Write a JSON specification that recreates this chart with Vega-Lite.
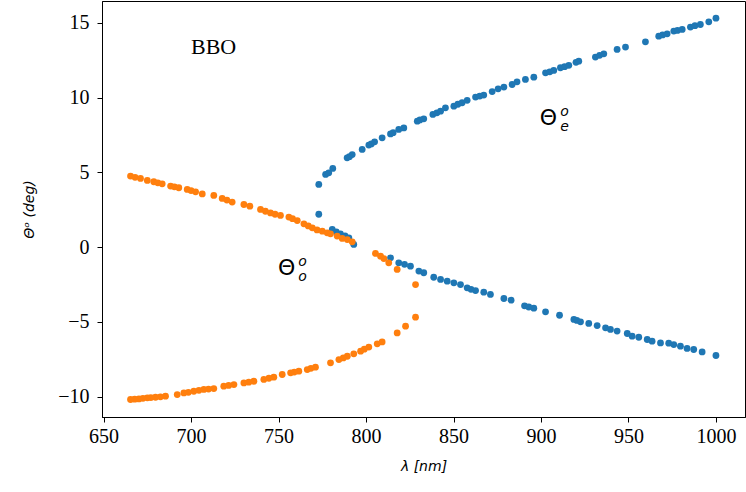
{
  "$schema": "https://vega.github.io/schema/vega-lite/v6.json",
  "autosize": {"type": "none"},
  "padding": {"left": 102, "top": 1, "right": 1, "bottom": 75},
  "width": 643,
  "height": 416,
  "background": "white",
  "config": {
    "view": {"stroke": "black", "strokeWidth": 1}
  },
  "datasets": {
    "pts": [
      {"lam": 773.0, "theta": 4.19, "s": "e"}, {"lam": 776.9, "theta": 4.86, "s": "e"}, {"lam": 778.7, "theta": 4.97, "s": "e"},
      {"lam": 781.0, "theta": 5.26, "s": "e"}, {"lam": 789.2, "theta": 5.97, "s": "e"}, {"lam": 790.5, "theta": 6.05, "s": "e"},
      {"lam": 792.1, "theta": 6.19, "s": "e"}, {"lam": 797.8, "theta": 6.53, "s": "e"}, {"lam": 801.6, "theta": 6.82, "s": "e"},
      {"lam": 803.0, "theta": 6.9, "s": "e"}, {"lam": 804.9, "theta": 7.04, "s": "e"}, {"lam": 809.2, "theta": 7.31, "s": "e"},
      {"lam": 814.0, "theta": 7.57, "s": "e"}, {"lam": 815.5, "theta": 7.65, "s": "e"}, {"lam": 818.7, "theta": 7.87, "s": "e"},
      {"lam": 821.6, "theta": 7.97, "s": "e"}, {"lam": 829.3, "theta": 8.42, "s": "e"}, {"lam": 830.8, "theta": 8.5, "s": "e"},
      {"lam": 833.0, "theta": 8.58, "s": "e"}, {"lam": 838.2, "theta": 8.87, "s": "e"}, {"lam": 840.5, "theta": 8.98, "s": "e"},
      {"lam": 842.6, "theta": 9.09, "s": "e"}, {"lam": 845.4, "theta": 9.31, "s": "e"}, {"lam": 850.2, "theta": 9.42, "s": "e"},
      {"lam": 852.5, "theta": 9.55, "s": "e"}, {"lam": 854.9, "theta": 9.65, "s": "e"}, {"lam": 857.8, "theta": 9.81, "s": "e"},
      {"lam": 862.6, "theta": 10.03, "s": "e"}, {"lam": 865.0, "theta": 10.1, "s": "e"}, {"lam": 867.3, "theta": 10.16, "s": "e"},
      {"lam": 872.1, "theta": 10.4, "s": "e"}, {"lam": 875.5, "theta": 10.58, "s": "e"}, {"lam": 878.8, "theta": 10.7, "s": "e"},
      {"lam": 883.5, "theta": 10.87, "s": "e"}, {"lam": 886.3, "theta": 11.05, "s": "e"}, {"lam": 891.1, "theta": 11.21, "s": "e"},
      {"lam": 895.9, "theta": 11.36, "s": "e"}, {"lam": 902.6, "theta": 11.65, "s": "e"}, {"lam": 905.0, "theta": 11.72, "s": "e"},
      {"lam": 907.3, "theta": 11.81, "s": "e"}, {"lam": 911.1, "theta": 11.99, "s": "e"}, {"lam": 913.5, "theta": 12.06, "s": "e"},
      {"lam": 915.9, "theta": 12.15, "s": "e"}, {"lam": 920.0, "theta": 12.35, "s": "e"}, {"lam": 921.6, "theta": 12.43, "s": "e"},
      {"lam": 931.1, "theta": 12.7, "s": "e"}, {"lam": 933.5, "theta": 12.82, "s": "e"}, {"lam": 935.9, "theta": 12.92, "s": "e"},
      {"lam": 943.5, "theta": 13.21, "s": "e"}, {"lam": 948.3, "theta": 13.37, "s": "e"}, {"lam": 959.7, "theta": 13.72, "s": "e"},
      {"lam": 967.3, "theta": 14.1, "s": "e"}, {"lam": 969.5, "theta": 14.18, "s": "e"}, {"lam": 972.1, "theta": 14.26, "s": "e"},
      {"lam": 975.9, "theta": 14.44, "s": "e"}, {"lam": 978.0, "theta": 14.48, "s": "e"}, {"lam": 980.7, "theta": 14.55, "s": "e"},
      {"lam": 985.4, "theta": 14.71, "s": "e"}, {"lam": 988.0, "theta": 14.8, "s": "e"}, {"lam": 991.1, "theta": 14.88, "s": "e"},
      {"lam": 995.9, "theta": 15.06, "s": "e"}, {"lam": 1000.0, "theta": 15.3, "s": "e"},

      {"lam": 773.0, "theta": 2.2, "s": "e"}, {"lam": 780.7, "theta": 1.18, "s": "e"}, {"lam": 783.0, "theta": 1.02, "s": "e"},
      {"lam": 785.4, "theta": 0.89, "s": "e"}, {"lam": 788.0, "theta": 0.75, "s": "e"}, {"lam": 790.2, "theta": 0.62, "s": "e"},
      {"lam": 793.0, "theta": 0.18, "s": "e"}, {"lam": 814.0, "theta": -0.71, "s": "e"}, {"lam": 818.7, "theta": -1.05, "s": "e"},
      {"lam": 822.0, "theta": -1.15, "s": "e"}, {"lam": 825.4, "theta": -1.27, "s": "e"}, {"lam": 830.2, "theta": -1.6, "s": "e"},
      {"lam": 833.0, "theta": -1.71, "s": "e"}, {"lam": 838.7, "theta": -2.01, "s": "e"}, {"lam": 842.6, "theta": -2.16, "s": "e"},
      {"lam": 846.4, "theta": -2.27, "s": "e"}, {"lam": 850.2, "theta": -2.38, "s": "e"}, {"lam": 854.0, "theta": -2.5, "s": "e"},
      {"lam": 857.8, "theta": -2.72, "s": "e"}, {"lam": 860.0, "theta": -2.82, "s": "e"}, {"lam": 862.6, "theta": -2.9, "s": "e"},
      {"lam": 867.3, "theta": -3.01, "s": "e"}, {"lam": 871.1, "theta": -3.16, "s": "e"}, {"lam": 878.8, "theta": -3.43, "s": "e"},
      {"lam": 882.9, "theta": -3.54, "s": "e"}, {"lam": 890.6, "theta": -3.92, "s": "e"}, {"lam": 893.0, "theta": -4.0, "s": "e"},
      {"lam": 895.9, "theta": -4.08, "s": "e"}, {"lam": 902.6, "theta": -4.32, "s": "e"}, {"lam": 910.6, "theta": -4.55, "s": "e"},
      {"lam": 918.8, "theta": -4.83, "s": "e"}, {"lam": 920.5, "theta": -4.9, "s": "e"}, {"lam": 922.6, "theta": -4.99, "s": "e"},
      {"lam": 927.3, "theta": -5.1, "s": "e"}, {"lam": 932.1, "theta": -5.24, "s": "e"}, {"lam": 936.9, "theta": -5.39, "s": "e"},
      {"lam": 939.7, "theta": -5.5, "s": "e"}, {"lam": 943.5, "theta": -5.61, "s": "e"}, {"lam": 949.3, "theta": -5.77, "s": "e"},
      {"lam": 952.1, "theta": -5.95, "s": "e"}, {"lam": 955.9, "theta": -6.02, "s": "e"}, {"lam": 960.7, "theta": -6.17, "s": "e"},
      {"lam": 963.5, "theta": -6.28, "s": "e"}, {"lam": 968.3, "theta": -6.4, "s": "e"}, {"lam": 973.0, "theta": -6.42, "s": "e"},
      {"lam": 975.9, "theta": -6.51, "s": "e"}, {"lam": 979.7, "theta": -6.62, "s": "e"}, {"lam": 983.5, "theta": -6.77, "s": "e"},
      {"lam": 987.3, "theta": -6.84, "s": "e"}, {"lam": 992.1, "theta": -7.0, "s": "e"}, {"lam": 1000.0, "theta": -7.24, "s": "e"},

      {"lam": 665.4, "theta": 4.75, "s": "o"}, {"lam": 668.0, "theta": 4.67, "s": "o"}, {"lam": 671.1, "theta": 4.59, "s": "o"},
      {"lam": 675.0, "theta": 4.46, "s": "o"}, {"lam": 678.7, "theta": 4.37, "s": "o"}, {"lam": 681.0, "theta": 4.3, "s": "o"},
      {"lam": 683.5, "theta": 4.23, "s": "o"}, {"lam": 688.3, "theta": 4.08, "s": "o"}, {"lam": 690.5, "theta": 4.03, "s": "o"},
      {"lam": 693.0, "theta": 3.97, "s": "o"}, {"lam": 697.8, "theta": 3.86, "s": "o"}, {"lam": 700.0, "theta": 3.78, "s": "o"},
      {"lam": 702.6, "theta": 3.7, "s": "o"}, {"lam": 706.4, "theta": 3.56, "s": "o"}, {"lam": 713.0, "theta": 3.46, "s": "o"},
      {"lam": 717.8, "theta": 3.26, "s": "o"}, {"lam": 720.5, "theta": 3.15, "s": "o"}, {"lam": 723.5, "theta": 3.01, "s": "o"},
      {"lam": 730.2, "theta": 2.85, "s": "o"}, {"lam": 733.6, "theta": 2.74, "s": "o"}, {"lam": 739.7, "theta": 2.52, "s": "o"},
      {"lam": 742.5, "theta": 2.4, "s": "o"}, {"lam": 745.4, "theta": 2.29, "s": "o"}, {"lam": 748.0, "theta": 2.2, "s": "o"},
      {"lam": 751.1, "theta": 2.12, "s": "o"}, {"lam": 755.9, "theta": 2.01, "s": "o"}, {"lam": 758.0, "theta": 1.9, "s": "o"},
      {"lam": 760.7, "theta": 1.78, "s": "o"}, {"lam": 764.5, "theta": 1.56, "s": "o"}, {"lam": 767.0, "theta": 1.42, "s": "o"},
      {"lam": 769.3, "theta": 1.29, "s": "o"}, {"lam": 772.0, "theta": 1.15, "s": "o"}, {"lam": 775.0, "theta": 1.07, "s": "o"},
      {"lam": 777.8, "theta": 0.96, "s": "o"}, {"lam": 779.7, "theta": 0.89, "s": "o"}, {"lam": 783.5, "theta": 0.74, "s": "o"},
      {"lam": 786.4, "theta": 0.58, "s": "o"}, {"lam": 789.3, "theta": 0.51, "s": "o"}, {"lam": 792.1, "theta": 0.36, "s": "o"},
      {"lam": 805.4, "theta": -0.42, "s": "o"}, {"lam": 808.3, "theta": -0.6, "s": "o"}, {"lam": 810.2, "theta": -0.76, "s": "o"},
      {"lam": 813.0, "theta": -1.05, "s": "o"}, {"lam": 817.8, "theta": -1.49, "s": "o"}, {"lam": 828.3, "theta": -2.5, "s": "o"},

      {"lam": 828.3, "theta": -4.68, "s": "o"}, {"lam": 822.6, "theta": -5.28, "s": "o"}, {"lam": 817.8, "theta": -5.73, "s": "o"},
      {"lam": 809.2, "theta": -6.33, "s": "o"}, {"lam": 806.4, "theta": -6.46, "s": "o"}, {"lam": 801.6, "theta": -6.68, "s": "o"},
      {"lam": 799.0, "theta": -6.82, "s": "o"}, {"lam": 796.9, "theta": -6.95, "s": "o"}, {"lam": 793.0, "theta": -7.13, "s": "o"},
      {"lam": 789.3, "theta": -7.29, "s": "o"}, {"lam": 787.0, "theta": -7.4, "s": "o"}, {"lam": 784.5, "theta": -7.51, "s": "o"},
      {"lam": 779.7, "theta": -7.73, "s": "o"}, {"lam": 771.1, "theta": -8.02, "s": "o"}, {"lam": 768.5, "theta": -8.1, "s": "o"},
      {"lam": 766.4, "theta": -8.18, "s": "o"}, {"lam": 761.6, "theta": -8.29, "s": "o"}, {"lam": 759.0, "theta": -8.35, "s": "o"},
      {"lam": 756.9, "theta": -8.4, "s": "o"}, {"lam": 752.1, "theta": -8.51, "s": "o"}, {"lam": 747.3, "theta": -8.69, "s": "o"},
      {"lam": 744.5, "theta": -8.76, "s": "o"}, {"lam": 741.6, "theta": -8.84, "s": "o"}, {"lam": 735.9, "theta": -8.96, "s": "o"},
      {"lam": 733.0, "theta": -9.02, "s": "o"}, {"lam": 730.2, "theta": -9.07, "s": "o"}, {"lam": 724.5, "theta": -9.18, "s": "o"},
      {"lam": 721.5, "theta": -9.24, "s": "o"}, {"lam": 718.7, "theta": -9.29, "s": "o"}, {"lam": 713.0, "theta": -9.45, "s": "o"},
      {"lam": 710.0, "theta": -9.48, "s": "o"}, {"lam": 707.3, "theta": -9.51, "s": "o"}, {"lam": 704.5, "theta": -9.57, "s": "o"},
      {"lam": 701.6, "theta": -9.63, "s": "o"}, {"lam": 698.5, "theta": -9.7, "s": "o"}, {"lam": 695.9, "theta": -9.74, "s": "o"},
      {"lam": 692.1, "theta": -9.85, "s": "o"}, {"lam": 685.4, "theta": -9.96, "s": "o"}, {"lam": 682.5, "theta": -10.0, "s": "o"},
      {"lam": 679.7, "theta": -10.03, "s": "o"}, {"lam": 677.0, "theta": -10.05, "s": "o"}, {"lam": 675.0, "theta": -10.07, "s": "o"},
      {"lam": 672.5, "theta": -10.1, "s": "o"}, {"lam": 670.2, "theta": -10.14, "s": "o"}, {"lam": 667.8, "theta": -10.16, "s": "o"},
      {"lam": 665.4, "theta": -10.18, "s": "o"}
    ],
    "labels": [
      {"lam": 904.3, "theta": 8.62, "main": "Θ", "sup": "o", "sub": "e"},
      {"lam": 754.6, "theta": -1.4, "main": "Θ", "sup": "o", "sub": "o"}
    ],
    "bbo": [{"lam": 712.9, "theta": 13.37, "t": "BBO"}]
  },
  "layer": [
    {
      "data": {"name": "pts"},
      "mark": {"type": "circle", "size": 46, "opacity": 1},
      "encoding": {
        "x": {
          "field": "lam", "type": "quantitative",
          "scale": {"domain": [649.1, 1016.6], "nice": false, "zero": false},
          "axis": {
            "values": [650, 700, 750, 800, 850, 900, 950, 1000], "format": "d",
            "title": "λ [nm]", "titleFont": "DejaVu Sans", "titleFontSize": 14, "titleFontWeight": "normal", "titleFontStyle": "italic", "titleColor": "black", "titlePadding": 13,
            "labelFont": "Liberation Serif", "labelFontSize": 20, "labelColor": "black", "labelPadding": 4,
            "domainColor": "black", "tickColor": "black", "tickSize": 5, "grid": false
          }
        },
        "y": {
          "field": "theta", "type": "quantitative",
          "scale": {"domain": [-11.35, 16.45], "nice": false, "zero": false},
          "axis": {
            "values": [-10, -5, 0, 5, 10, 15], "format": "d",
            "title": "Θᵒ (deg)", "titleFont": "DejaVu Sans", "titleFontSize": 14, "titleFontWeight": "normal", "titleFontStyle": "italic", "titleColor": "black", "titlePadding": 21,
            "labelFont": "Liberation Serif", "labelFontSize": 20, "labelColor": "black", "labelPadding": 8,
            "domainColor": "black", "tickColor": "black", "tickSize": 5, "grid": false
          }
        },
        "color": {
          "field": "s", "type": "nominal",
          "scale": {"domain": ["e", "o"], "range": ["#1f77b4", "#ff7f0e"]},
          "legend": null
        },
        "order": {"field": "s", "sort": "ascending"}
      }
    },
    {
      "data": {"name": "bbo"},
      "mark": {"type": "text", "font": "Liberation Serif", "fontSize": 22, "color": "black", "align": "center", "baseline": "middle"},
      "encoding": {
        "x": {"field": "lam", "type": "quantitative"},
        "y": {"field": "theta", "type": "quantitative"},
        "text": {"field": "t"}
      }
    },
    {
      "data": {"name": "labels"},
      "mark": {"type": "text", "font": "DejaVu Sans", "fontSize": 22, "color": "black", "align": "center", "baseline": "middle"},
      "encoding": {
        "x": {"field": "lam", "type": "quantitative"},
        "y": {"field": "theta", "type": "quantitative"},
        "text": {"field": "main"}
      }
    },
    {
      "data": {"name": "labels"},
      "mark": {"type": "text", "font": "DejaVu Sans", "fontSize": 14, "fontStyle": "italic", "color": "black", "align": "center", "baseline": "middle", "dx": 16, "dy": -6},
      "encoding": {
        "x": {"field": "lam", "type": "quantitative"},
        "y": {"field": "theta", "type": "quantitative"},
        "text": {"field": "sup"}
      }
    },
    {
      "data": {"name": "labels"},
      "mark": {"type": "text", "font": "DejaVu Sans", "fontSize": 14, "fontStyle": "italic", "color": "black", "align": "center", "baseline": "middle", "dx": 16, "dy": 9},
      "encoding": {
        "x": {"field": "lam", "type": "quantitative"},
        "y": {"field": "theta", "type": "quantitative"},
        "text": {"field": "sub"}
      }
    }
  ]
}
